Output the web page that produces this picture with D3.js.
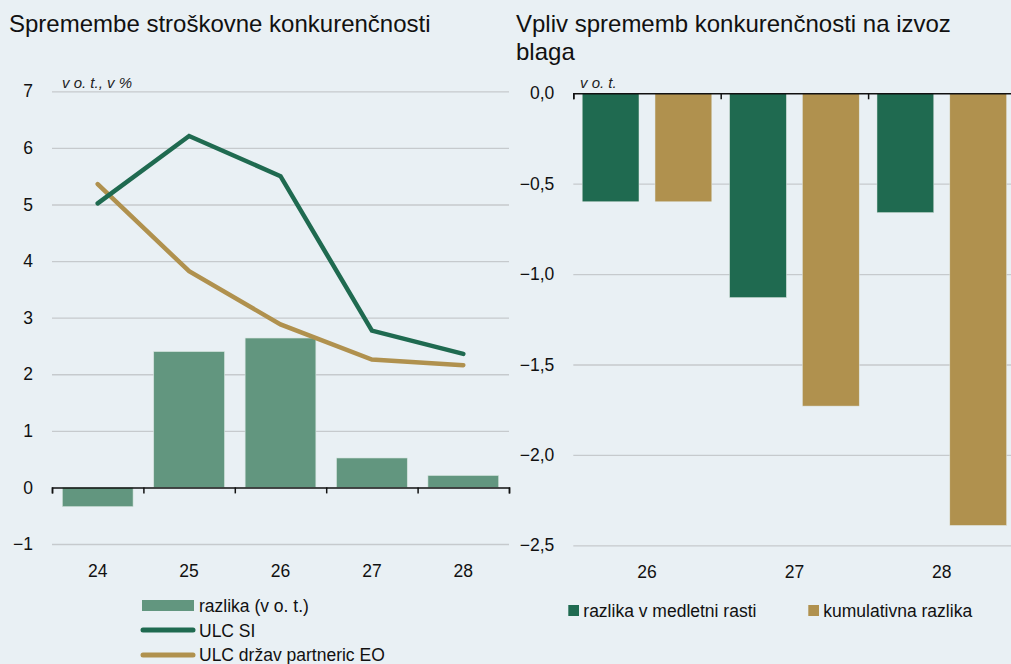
<!DOCTYPE html>
<html>
<head>
<meta charset="utf-8">
<script src="https://cdn.jsdelivr.net/npm/d3@7"></script>
<style>
  body { margin: 0; background: #e9f0f4; }
  svg { display: block; font-family: "Liberation Sans", Arial, sans-serif; }
  .grid line { stroke: #c6cacd; stroke-width: 1.3; }
  .grid .domain { display: none; }
</style>
</head>
<body>
<svg id="chart" width="1011" height="664"></svg>
<script>
// left panel data
const years = ["24", "25", "26", "27", "28"];
const razlika = [-0.34, 2.40, 2.64, 0.52, 0.21];
const ulcSI = [5.02, 6.21, 5.50, 2.77, 2.36];
const ulcEO = [5.36, 3.82, 2.88, 2.26, 2.16];
const leftTicks = [-1, 0, 1, 2, 3, 4, 5, 6, 7];

// right panel data
const yearsR = ["26", "27", "28"];
const medletna = [-0.60, -1.13, -0.66];
const kumulativna = [-0.60, -1.73, -2.39];
const rightTicks = [0, -0.5, -1.0, -1.5, -2.0, -2.5];

const colors = {
  bar: "#62967f",
  si: "#1f6a50",
  eo: "#b0914e",
};

const fontSize = "17.5px";
const svg = d3.select("#chart");
const locale = d3.formatLocale({ decimal: ",", thousands: ".", grouping: [3], currency: ["", "€"], minus: "\u2212" });

svg.append("rect").attr("width", 1011).attr("height", 664).attr("fill", "#e9f0f4");

// ---------- left panel ----------
const L = { x0: 52, x1: 509, top: 91.3, bottom: 544 };

const yL = d3.scaleLinear().domain([-1, 7]).range([L.bottom, L.top]);
const xL = d3.scaleBand().domain(years).range([L.x0, L.x1]);
const xLBar = d3.scaleBand().domain(years).range([L.x0, L.x1]).paddingInner(0.226).paddingOuter(0.113);

svg.append("text")
  .attr("x", 9).attr("y", 32)
  .attr("font-size", "24px").attr("fill", "#111")
  .text("Spremembe stroškovne konkurenčnosti");

const gridL = svg.append("g")
  .attr("class", "grid")
  .attr("transform", `translate(${L.x0},0)`)
  .call(d3.axisLeft(yL).tickValues(leftTicks).tickSize(-(L.x1 - L.x0)).tickPadding(19).tickFormat(locale.format("d")));
gridL.selectAll("line").filter((d) => d === 0).remove();
gridL.selectAll("text").attr("font-size", fontSize).attr("fill", "#111").attr("font-family", null);

svg.append("text")
  .attr("x", 62).attr("y", 88)
  .attr("font-size", "15px").attr("font-style", "italic").attr("fill", "#222")
  .text("v o. t., v %");

svg.append("g")
  .selectAll("rect")
  .data(years)
  .join("rect")
  .attr("x", (d) => xLBar(d))
  .attr("width", xLBar.bandwidth())
  .attr("y", (d, i) => yL(Math.max(0, razlika[i])))
  .attr("height", (d, i) => Math.abs(yL(razlika[i]) - yL(0)))
  .attr("fill", colors.bar)
  .attr("stroke", "#d6e4de")
  .attr("stroke-width", 0.6);

// zero axis with boundary ticks
const boundL = d3.scaleLinear().domain([0, years.length]).range([L.x0, L.x1]);
const zeroL = svg.append("g")
  .attr("transform", `translate(0,${yL(0)})`)
  .call(d3.axisBottom(boundL).ticks(years.length).tickSize(6).tickSizeOuter(6).tickFormat(""));
zeroL.selectAll("path, line").attr("stroke", "#111").attr("stroke-width", 1.5);

const lineL = d3.line()
  .x((d, i) => xL(years[i]) + xL.bandwidth() / 2)
  .y((d) => yL(d));

svg.append("path").datum(ulcEO)
  .attr("d", lineL).attr("fill", "none")
  .attr("stroke", colors.eo).attr("stroke-width", 4.5).attr("stroke-linecap", "round");
svg.append("path").datum(ulcSI)
  .attr("d", lineL).attr("fill", "none")
  .attr("stroke", colors.si).attr("stroke-width", 4.5).attr("stroke-linecap", "round");

const catL = svg.append("g")
  .attr("transform", `translate(0,${L.bottom})`)
  .call(d3.axisBottom(xL).tickSize(0).tickPadding(21));
catL.select(".domain").remove();
catL.selectAll("text").attr("font-size", fontSize).attr("fill", "#111").attr("font-family", null);

// left legend
const legL = svg.append("g");
legL.append("rect").attr("x", 142).attr("y", 600).attr("width", 52).attr("height", 11).attr("fill", colors.bar);
legL.append("line").attr("x1", 143).attr("x2", 193).attr("y1", 630).attr("y2", 630)
  .attr("stroke", colors.si).attr("stroke-width", 5).attr("stroke-linecap", "round");
legL.append("line").attr("x1", 143).attr("x2", 193).attr("y1", 655).attr("y2", 655)
  .attr("stroke", colors.eo).attr("stroke-width", 5).attr("stroke-linecap", "round");
legL.selectAll("text")
  .data(["razlika (v o. t.)", "ULC SI", "ULC držav partneric EO"])
  .join("text")
  .attr("x", 199)
  .attr("y", (d, i) => 612 + i * 24.7)
  .attr("font-size", fontSize).attr("fill", "#111")
  .text((d) => d);

// ---------- right panel ----------
const R = { x0: 573.3, x1: 1015.5, top: 93.3, bottom: 545.3 };

const yR = d3.scaleLinear().domain([-2.5, 0]).range([R.bottom, R.top]);
const xR = d3.scaleBand().domain(yearsR).range([R.x0, R.x1]);
const series = [
  { name: "razlika v medletni rasti", values: medletna, color: colors.si },
  { name: "kumulativna razlika", values: kumulativna, color: colors.eo },
];
const xR1 = d3.scaleBand().domain(series.map((s) => s.name)).range([0, xR.bandwidth()])
  .paddingInner(0.22).paddingOuter(0.122);

svg.append("text")
  .attr("font-size", "24px").attr("fill", "#111")
  .selectAll("tspan")
  .data(["Vpliv sprememb konkurenčnosti na izvoz", "blaga"])
  .join("tspan")
  .attr("x", 516).attr("y", (d, i) => 31.5 + i * 28)
  .text((d) => d);

const gridR = svg.append("g")
  .attr("class", "grid")
  .attr("transform", `translate(${R.x0},0)`)
  .call(d3.axisLeft(yR).tickValues(rightTicks).tickSize(-(R.x1 - R.x0)).tickPadding(19).tickFormat(locale.format(".1f")));
gridR.selectAll("line").filter((d) => d === 0).remove();
gridR.selectAll("text").attr("font-size", fontSize).attr("fill", "#111").attr("font-family", null);

svg.append("text")
  .attr("x", 580).attr("y", 88)
  .attr("font-size", "15px").attr("font-style", "italic").attr("fill", "#222")
  .text("v o. t.");

svg.append("g")
  .selectAll("g")
  .data(series)
  .join("g")
  .attr("fill", (s) => s.color)
  .selectAll("rect")
  .data((s) => s.values.map((v, i) => ({ year: yearsR[i], value: v, name: s.name })))
  .join("rect")
  .attr("x", (d) => xR(d.year) + xR1(d.name))
  .attr("width", xR1.bandwidth())
  .attr("y", (d) => yR(Math.max(0, d.value)))
  .attr("height", (d) => Math.abs(yR(d.value) - yR(0)))
  .attr("stroke", "#e2e8e4")
  .attr("stroke-width", 0.5);

const boundR = d3.scaleLinear().domain([0, yearsR.length]).range([R.x0, R.x1]);
const zeroR = svg.append("g")
  .attr("transform", `translate(0,${yR(0)})`)
  .call(d3.axisBottom(boundR).ticks(yearsR.length).tickSize(6).tickSizeOuter(6).tickFormat(""));
zeroR.selectAll("path, line").attr("stroke", "#111").attr("stroke-width", 1.5);

const catR = svg.append("g")
  .attr("transform", `translate(0,${R.bottom})`)
  .call(d3.axisBottom(xR).tickSize(0).tickPadding(20.5));
catR.select(".domain").remove();
catR.selectAll("text").attr("font-size", fontSize).attr("fill", "#111").attr("font-family", null);

// right legend
const legR = svg.append("g")
  .selectAll("g")
  .data(series)
  .join("g")
  .attr("transform", (d, i) => `translate(${i === 0 ? 568.3 : 808.3},605)`);
legR.append("rect").attr("width", 10.7).attr("height", 11).attr("fill", (d) => d.color);
legR.append("text")
  .attr("x", 15).attr("y", 12)
  .attr("font-size", fontSize).attr("fill", "#111")
  .text((d) => d.name);
</script>
</body>
</html>
